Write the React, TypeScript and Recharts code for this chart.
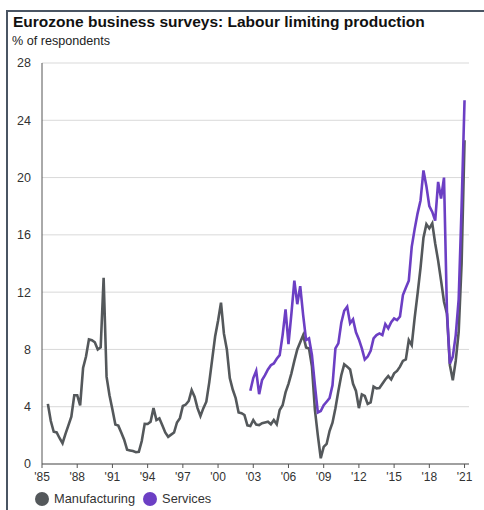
import { LineChart, Line, XAxis, YAxis, CartesianGrid, Legend } from "recharts";

// quarterly readings, manufacturing starts Q3 1985, services Q4 2002
const MFG_START = 1985.5;
const SVC_START = 2002.75;

const manufacturing = [
  4.2, 3.0,
  2.25, 2.2, 1.8, 1.45,
  2.1, 2.7, 3.3, 4.8,
  4.8, 4.1, 6.7, 7.5,
  8.7, 8.65, 8.5, 8.0,
  8.15, 13.0, 6.1, 4.8,
  3.8, 2.75, 2.68, 2.2,
  1.7, 1.0, 0.95, 0.9,
  0.82, 0.85, 1.6, 2.8,
  2.79, 2.95, 3.9, 3.07,
  3.19, 2.7, 2.2, 1.9,
  2.05, 2.2, 2.9, 3.2,
  4.05, 4.15, 4.4, 5.16,
  4.7, 3.9, 3.35, 3.9,
  4.35, 5.7, 7.3, 8.9,
  10.0, 11.26, 9.1, 8.0,
  6.0, 5.2, 4.6, 3.6,
  3.55, 3.42, 2.7, 2.65,
  3.07, 2.75, 2.72, 2.85,
  2.9, 2.95, 2.77, 3.07,
  2.77, 3.77, 4.1, 5.0,
  5.6, 6.33, 7.2, 8.0,
  8.5, 9.0, 8.14, 8.07,
  6.8, 3.8, 2.0, 0.4,
  1.2, 1.4, 2.3, 2.88,
  3.9, 5.1, 6.2, 6.96,
  6.8, 6.6, 5.6, 5.1,
  3.9, 4.86, 4.75, 4.2,
  4.3, 5.4, 5.28, 5.3,
  5.6, 5.9, 6.14, 5.9,
  6.33, 6.5, 6.8, 7.2,
  7.3, 8.65, 8.3, 10.2,
  11.9, 13.7, 15.8, 16.75,
  16.45, 16.8, 15.4, 14.2,
  12.8, 11.33, 10.5, 6.9,
  5.85, 7.2, 9.2, 14.0,
  22.6,
];

const services = [
  5.12,
  6.0, 6.5, 4.88, 5.86,
  6.2, 6.6, 6.9, 7.02,
  7.35, 7.6, 9.0, 10.8,
  8.37, 10.5, 12.8, 11.16,
  12.42, 10.4, 8.65, 8.77,
  7.6, 5.5, 3.6, 3.7,
  4.1, 4.35, 4.6, 5.5,
  8.07, 8.42, 9.86, 10.7,
  10.98, 9.82, 10.1, 9.2,
  8.7, 8.07, 7.3, 7.5,
  7.9, 8.77, 9.0, 9.12,
  9.0, 9.77, 9.47, 9.9,
  10.17, 10.05, 10.3, 11.8,
  12.3, 12.8, 15.16, 16.4,
  17.5, 18.4, 20.5, 19.4,
  18.0, 17.6, 17.0, 19.7,
  18.54, 20.0, 10.7, 7.0,
  7.5, 9.0, 11.5, 18.0,
  25.4,
];

const xTicks = [1985, 1988, 1991, 1994, 1997, 2000, 2003, 2006, 2009, 2012, 2015, 2018, 2021];
const yTicks = [0, 4, 8, 12, 16, 20, 24, 28];

const svcOffset = (SVC_START - MFG_START) * 4;
const data = manufacturing.map((v, i) => ({
  t: MFG_START + i / 4,
  mfg: v,
  svc: i >= svcOffset ? services[i - svcOffset] : null,
}));

const FONT = "'Liberation Sans', Arial, sans-serif";
const GREY = "#54585b";
const PURPLE = "#6c3fc4";

function LegendContent({ payload }: any) {
  return (
    <div style={{ display: "flex", alignItems: "center", fontFamily: FONT, fontSize: 12.8, color: "#333" }}>
      {(payload || []).map((p: any) => (
        <div key={p.value} style={{ display: "flex", alignItems: "center", marginRight: 8 }}>
          <span
            style={{
              width: 14,
              height: 14,
              borderRadius: "50%",
              background: p.color,
              display: "inline-block",
              marginRight: 5,
            }}
          />
          {p.value}
        </div>
      ))}
    </div>
  );
}

export default function App() {
  return (
    <div style={{ position: "absolute", left: 0, top: 0, width: 484, height: 510, background: "#fff" }}>
      {/* frame: top and left edge */}
      <div
        style={{
          position: "absolute",
          left: 6,
          top: 10,
          width: 478,
          height: 500,
          borderTop: "2px solid #4a5563",
          borderLeft: "2px solid #4a5563",
          boxSizing: "border-box",
        }}
      />
      <div
        style={{
          position: "absolute",
          left: 13,
          top: 13,
          fontFamily: FONT,
          fontWeight: "bold",
          fontSize: 15.5,
          color: "#111",
          whiteSpace: "nowrap",
        }}
      >
        Eurozone business surveys: Labour limiting production
      </div>
      <div
        style={{ position: "absolute", left: 12, top: 34, fontFamily: FONT, fontSize: 12.6, color: "#222" }}
      >
        % of respondents
      </div>
      <div style={{ position: "absolute", left: 0, top: 0 }}>
        <LineChart width={484} height={510} data={data} margin={{ top: 63, right: 15, bottom: 0, left: 0 }}>
          <CartesianGrid vertical={false} stroke="#d9d9d9" strokeWidth={1} />
          <XAxis
            dataKey="t"
            type="number"
            domain={[1985, 2021.38]}
            ticks={xTicks}
            tickFormatter={(v: number) => "'" + String(v).slice(2)}
            height={31}
            tickSize={4}
            tickMargin={4}
            stroke="#555"
            tick={{ fontSize: 12, fill: "#333", fontFamily: FONT }}
            allowDataOverflow
          />
          <YAxis
            domain={[0, 28]}
            ticks={yTicks}
            width={42}
            tickLine={false}
            tickSize={6}
            tickMargin={5}
            stroke="#555"
            tick={{ fontSize: 12.5, fill: "#333", fontFamily: FONT }}
            allowDataOverflow
          />
          <Legend
            verticalAlign="bottom"
            align="left"
            wrapperStyle={{ left: 35, top: 491, width: 300 }}
            content={<LegendContent />}
          />
          <Line
            dataKey="mfg"
            name="Manufacturing"
            stroke={GREY}
            strokeWidth={2.6}
            dot={false}
            type="linear"
            isAnimationActive={false}
          />
          <Line
            dataKey="svc"
            name="Services"
            stroke={PURPLE}
            strokeWidth={2.6}
            dot={false}
            type="linear"
            connectNulls={false}
            isAnimationActive={false}
          />
        </LineChart>
      </div>
    </div>
  );
}
